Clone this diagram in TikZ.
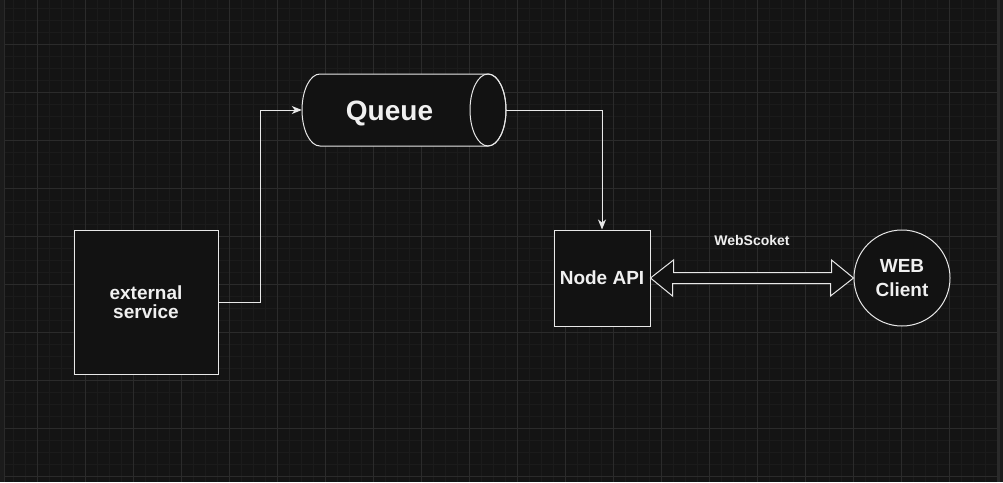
\documentclass[tikz,border=0pt]{standalone}
\usepackage{fontspec}
\setmainfont{Liberation Sans}
\usetikzlibrary{arrows.meta,calc}
\definecolor{bg}{HTML}{141414}
\definecolor{boxfill}{HTML}{121212}
\definecolor{minorgrid}{HTML}{1B1B1B}
\definecolor{majorgrid}{HTML}{2B2B2B}
\definecolor{ink}{HTML}{E8E8E8}
\definecolor{txt}{HTML}{F0F0F0}
\definecolor{edgeL}{HTML}{1B1B1B}
\definecolor{edgeLine}{HTML}{2A2A2A}
\tikzset{
  shapeline/.style={draw=ink, line width=1pt, fill=boxfill},
  boxnode/.style={shapeline, rectangle, inner sep=0pt, text=txt, font=\bfseries\fontsize{19}{19}\selectfont, align=center},
  conn/.style={draw=ink, line width=1pt, -{Stealth[length=10pt,width=8pt,inset=3pt]}},
  lbl/.style={text=txt, inner sep=0pt, align=center}
}
\begin{document}
\begin{tikzpicture}[x=1pt,y=-1pt]
\useasboundingbox (0,0) rectangle (1003,482);
\fill[bg] (0,0) rectangle (1003,482);
% grid
\begin{scope}
\clip (4.5,0) rectangle (997,482);
\foreach \i in {0,...,83} {
  \draw[minorgrid, line width=0.8pt] ({1.3+12*\i},0) -- ({1.3+12*\i},482);
}
\foreach \j in {0,...,40} {
  \draw[minorgrid, line width=0.8pt] (0,{8.3+12*\j}) -- (1003,{8.3+12*\j});
}
\foreach \i in {0,...,20} {
  \draw[majorgrid, line width=1pt] ({37.3+48*\i},0) -- ({37.3+48*\i},482);
}
\foreach \j in {0,...,9} {
  \draw[majorgrid, line width=1pt] (0,{44.3+48*\j}) -- (1003,{44.3+48*\j});
}
\end{scope}
% edges of canvas
\fill[edgeL] (0,0) rectangle (4,482);
\draw[edgeLine, line width=1pt] (4.5,0) -- (4.5,482);
\fill[edgeLine] (997,0) rectangle (1000,482);
\fill[edgeL] (1000,0) rectangle (1003,482);

% nodes
\node[boxnode, minimum width=144pt, minimum height=144pt, font=\bfseries\fontsize{19}{18.7}\selectfont] (ext) at (146,302) {external\\service};
\node[boxnode, minimum width=96pt, minimum height=96pt] (api) at (602,278) {Node API};
\node[boxnode, circle, minimum size=96pt, font=\bfseries\fontsize{19}{24}\selectfont] (web) at (902,278) {WEB\\Client};

% queue cylinder
\node[inner sep=0pt, minimum width=204pt, minimum height=72pt] (queue) at (404,110) {};
\path[shapeline] (320,74) -- (488,74) arc[start angle=90, end angle=-90, x radius=18pt, y radius=36pt]
  -- (320,146) arc[start angle=270, end angle=90, x radius=18pt, y radius=36pt] -- cycle;
\draw[draw=ink, line width=1pt] (488,110) ellipse[x radius=18pt, y radius=36pt];
\node[lbl, font=\bfseries\fontsize{28}{28}\selectfont] (qtext) at (389.5,113) {Queue};

% connectors
\draw[conn] (ext.east) -- (260.5,302) -- (260.5,110) -- (queue.west);
\draw[conn] (queue.east) -| (api.north);

% websocket double arrow
\draw[shapeline] (api.east) -- ++(23,-18) -- ++(0,12.5) -- ++(158,0) -- ++(0,-12.5) -- (web.west)
  -- ++(-23,18) -- ++(0,-12.5) -- ++(-158,0) -- ++(0,12.5) -- cycle;
\node[lbl, font=\bfseries\fontsize{14}{14}\selectfont] (ws) at (752,240) {WebScoket};
\end{tikzpicture}
\end{document}
